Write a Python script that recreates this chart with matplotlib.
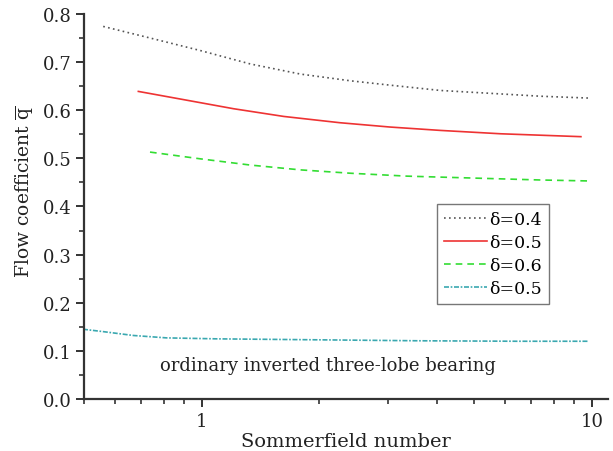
import numpy as np
import matplotlib
matplotlib.use("Agg")
import matplotlib.pyplot as plt
from matplotlib.ticker import LogLocator, FixedLocator, FuncFormatter, MultipleLocator

plt.rcParams['font.family'] = 'DejaVu Serif'
plt.rcParams['mathtext.fontset'] = 'dejavuserif'

# curves
s_04 = [0.56, 0.738, 0.992, 1.334, 1.793, 2.41, 3.04, 4.09, 5.50, 7.39, 9.94]
q_04 = [0.774, 0.750, 0.724, 0.696, 0.675, 0.661, 0.652, 0.641, 0.635, 0.629, 0.625]

s_05 = [0.689, 0.899, 1.209, 1.625, 2.26, 3.04, 4.09, 5.84, 9.37]
q_05 = [0.639, 0.622, 0.603, 0.587, 0.574, 0.565, 0.558, 0.551, 0.545]

s_06 = [0.738, 0.992, 1.334, 1.793, 2.41, 3.36, 4.97, 7.39, 9.82]
q_06 = [0.513, 0.499, 0.486, 0.476, 0.469, 0.463, 0.459, 0.455, 0.453]

s_ord = [0.497, 0.56, 0.669, 0.814, 1.095, 1.98, 3.58, 6.47, 9.78]
q_ord = [0.145, 0.140, 0.132, 0.127, 0.125, 0.123, 0.121, 0.120, 0.120]

labels = ['δ=0.4', 'δ=0.5', 'δ=0.6', 'δ=0.5']

fig = plt.figure(figsize=(6.13, 4.52), dpi=100)
ax = fig.add_axes([0.137, 0.115, 0.855, 0.852])

ax.plot(s_04, q_04, color='#555555', ls=(0, (1, 2)), lw=1.2, label=labels[0])
ax.plot(s_05, q_05, color='#ee3333', ls='-', lw=1.2, label=labels[1])
ax.plot(s_06, q_06, color='#33dd33', ls=(0, (4, 3)), lw=1.2, label=labels[2])
ax.plot(s_ord, q_ord, color='#3aa8b0', ls=(0, (3, 1, 1, 1)), lw=1.2, label=labels[3])

ax.set_xscale('log')
ax.set_xlim(0.5, 11)
ax.set_ylim(0, 0.8)

ax.xaxis.set_major_locator(FixedLocator([1, 10]))
ax.xaxis.set_major_formatter(FuncFormatter(lambda v, p: '%d' % v))
ax.xaxis.set_minor_locator(LogLocator(base=10, subs=np.arange(2, 10)))
ax.xaxis.set_minor_formatter(FuncFormatter(lambda v, p: ''))
ax.yaxis.set_major_locator(MultipleLocator(0.1))
ax.yaxis.set_minor_locator(MultipleLocator(0.05))
ax.yaxis.set_major_formatter(FuncFormatter(lambda v, p: '%.1f' % v))

for sp in ['top', 'right']:
    ax.spines[sp].set_visible(False)
for sp in ['left', 'bottom']:
    ax.spines[sp].set_linewidth(1.6)
    ax.spines[sp].set_color('#333333')

ax.tick_params(which='major', length=6, width=1.4, color='#333333',
               labelsize=13, labelcolor='#222222', pad=3)
ax.tick_params(which='minor', length=3.5, width=1.2, color='#333333')

ax.set_xlabel('Sommerfield number', fontsize=14, color='#222222', labelpad=2)
ax.set_ylabel(r'Flow coefficient $\overline{\mathrm{q}}$', fontsize=13.5,
              color='#222222')
ax.yaxis.set_label_coords(-0.093, 0.54)

ax.text(0.145, 0.088, 'ordinary inverted three-lobe bearing', fontsize=13,
        color='#222222', ha='left', va='center', transform=ax.transAxes)

leg = ax.legend(loc='upper left', bbox_to_anchor=(0.713, 0.546),
                bbox_transform=fig.transFigure, fontsize=12.5, frameon=True,
                fancybox=False, edgecolor='#555555', handlelength=2.5,
                handletextpad=0.1, borderpad=0.4, labelspacing=0.35,
                borderaxespad=0)
leg.get_frame().set_linewidth(1.0)

fig.savefig('out.png', dpi=100)
